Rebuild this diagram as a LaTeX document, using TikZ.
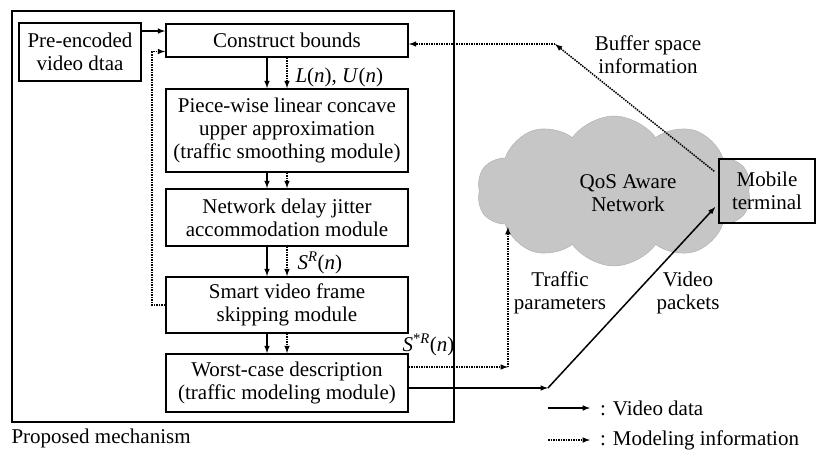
\documentclass[tikz,border=0pt]{standalone}
\usepackage{fontspec}
\setmainfont{Liberation Serif}
\usetikzlibrary{shapes,arrows}
\usetikzlibrary{positioning}
\usetikzlibrary{calc}

\begin{document}
\begin{tikzpicture}[x=1pt,y=-1pt,>=latex,
  every node/.style={font=\fontsize{21}{23}\selectfont},
  blk/.style={draw,line width=1.8pt,align=center,inner sep=0pt,minimum width=242pt},
  data/.style={->,line width=1.5pt},
  info/.style={->,line width=1.5pt,densely dotted}]
\useasboundingbox (0,0) rectangle (816,451);
% frame of the mechanism
\node[draw,line width=1.8pt,minimum width=442pt,minimum height=411pt,inner sep=0pt] (frame) at (233,216.5) {};
\node[right] (pm) at (8,438) {Proposed mechanism};
% blocks
\node[blk,minimum width=122pt,minimum height=58pt] (pre) at (80,52) {Pre-encoded\\video dtaa};
\node[blk,minimum height=33pt] (cb) at (287,40.5) {Construct bounds};
\node[blk,minimum height=83pt] (pw) at (287,130.5) {Piece-wise linear concave\\upper approximation\\(traffic smoothing module)};
\node[blk,minimum height=57pt] (nd) at (287,217.5) {Network delay jitter\\accommodation module};
\node[blk,minimum height=56pt] (sv) at (287,305) {Smart video frame\\skipping module};
\node[blk,minimum height=58pt] (wc) at (287,383) {Worst-case description\\(traffic modeling module)};
\foreach \a/\b in {cb/pw,pw/nd,nd/sv,sv/wc}{
  \draw[data] ([xshift=-20pt]\a.south) -- ([xshift=-20pt]\b.north);
  \draw[info] (\a.south) -- (\b.north);
}
\node[right] (lu) at (292,77) {\textit{L}(\textit{n}), \textit{U}(\textit{n})};
\node[right] (sr) at (294,263) {\textit{S}\textsuperscript{\textit{R}}(\textit{n})};
\node[right] (ssr) at (399,345) {\textit{S}\textsuperscript{*\textit{R}}(\textit{n})};
\draw[data] ([yshift=21pt]pre.east) -- ([yshift=21pt]pre.east -| cb.west);
\draw[info] (sv.west) -- ++(-13,0) |- ([yshift=-11pt]cb.west);
% network side
\node[cloud,cloud puffs=10,cloud puff arc=110,cloud ignores aspect,fill=gray!45,draw=gray!65,minimum width=274pt,minimum height=150pt,inner sep=0pt] (net) at (614,191) {};
\node[align=center] (netlbl) at (628,193) {QoS Aware\\Network};
\node[draw,line width=1.5pt,minimum width=96pt,minimum height=64pt,align=center,inner sep=0pt] (mt) at (767,191) {Mobile\\terminal};
\coordinate (bc) at (555,44);
\draw[info] ([shift={(-4,13)}]mt.north west) -- (bc);
\draw[info] (bc) -- (bc -| cb.east);
\node[align=center] (buf) at (648,55) {Buffer space\\information};
\draw[info] ([yshift=16pt]wc.east) -- ++(99,0) coordinate (tc);
\draw[info] (tc) -- ++(0,-140);
\node[align=center] (tp) at (560,293) {Traffic\\parameters};
\draw[data] ([yshift=-5pt]wc.east) -- ++(139,0) coordinate (vc);
\draw[data] (vc) -- ([shift={(-3,16)}]mt.west);
\node[align=center] (vp) at (688,293) {Video\\packets};
% legend
\coordinate (lg1) at (548,408);
\coordinate (lg2) at (548,440);
\draw[data] (lg1) -- ++(42,0) node[right=6pt] (lgv) {: Video data};
\draw[info] (lg2) -- ++(42,0) node[right=6pt] (lgm) {: Modeling information};
\end{tikzpicture}
\end{document}
